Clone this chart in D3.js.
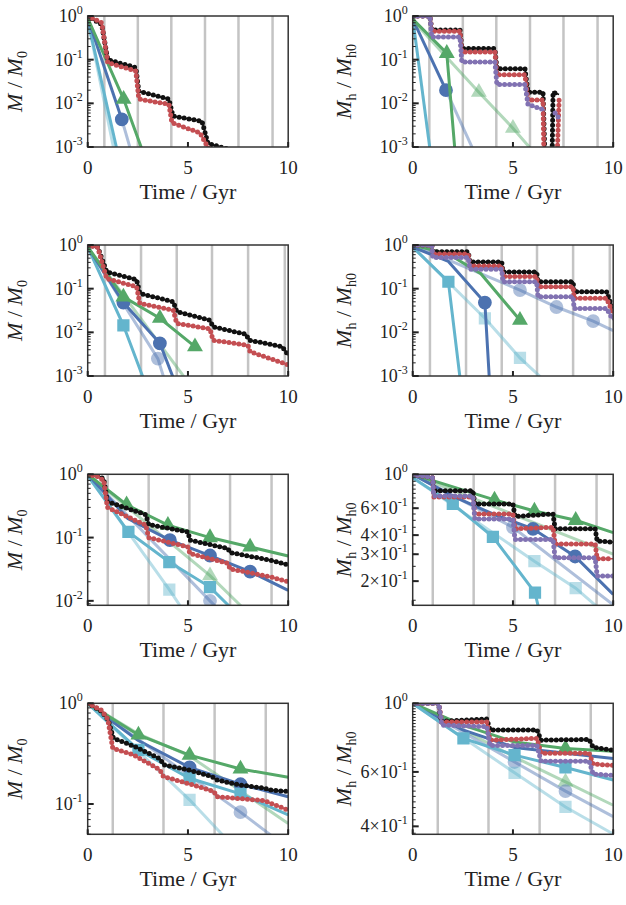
<!DOCTYPE html>
<html>
<head>
<meta charset="utf-8">
<script src="https://d3js.org/d3.v7.min.js"></script>
<style>
body { margin: 0; background: #fff; }
svg text { font-family: "Liberation Serif", "Times New Roman", "DejaVu Serif", serif; fill: #222; }
</style>
</head>
<body>
<svg id="fig" width="626" height="905" font-family="Liberation Serif, Times New Roman, DejaVu Serif, serif"></svg>
<script>
// ---- data (time in Gyr, mass fraction) ----
var xTicks = [0, 5, 10];
var colors = { black: "#111", red: "#c44e52", purple: "#8172b2", blue: "#4c72b0", green: "#55a868", cyan: "#64b5cd" };

// pericentre passages per row
var peri1 = [0.83, 2.5, 4.17, 5.85, 7.52, 9.22];
var peri2 = [0.86, 2.66, 4.44, 6.2, 8.0, 9.83];
var peri3 = [1.0, 3.04, 5.07, 7.1, 9.17];
var peri4 = [1.25, 3.78, 6.33, 8.88];

// y domains, one per panel
var yDom = [[0.001, 1], [0.001, 1], [0.001, 1], [0.001, 1], [0.0085, 1], [0.139, 1], [0.05, 1], [0.377, 1]];

// panel 1: M/M0, row 1
var p1Black = [[0,1],[0.7,0.64],[1.0,0.1],[2.4,0.066],[2.55,0.019],[4.05,0.0125],[4.25,0.0051],[5.7,0.0039],[6.0,0.0012],[7.0,0.0009]];
var p1Red = [[0,1],[0.7,0.7],[1.0,0.085],[2.4,0.055],[2.55,0.0125],[4.05,0.0095],[4.2,0.0036],[5.6,0.0021],[6.0,0.00097],[6.2,0.0008]];
var p1Blue = [[0,0.9],[1.7,0.0043,1]];
var p1BlueL = [[1.7,0.0043],[2.1,0.001]];
var p1Green = [[0,0.9],[1.79,0.0125,1],[2.7,0.0009]];
var p1Cyan = [[0,0.8],[1.45,0.0009]];
var p1CyanL = [[0,0.8],[1.3,0.0009]];

// panel 2: Mh/Mh0, row 1
var p2Black = [[0,1],[0.86,1],[0.95,0.48],[2.36,0.48],[2.45,0.18],[4.1,0.18],[4.2,0.062],[5.6,0.062],[5.75,0.018],[6.5,0.018],[6.6,0.0005]];
var p2BlackB = [[6.95,0.0005],[7.0,0.018],[7.3,0.016]];
var p2Red = [[0,1],[0.86,1],[0.95,0.45],[2.36,0.45],[2.45,0.15],[4.1,0.15],[4.2,0.045],[5.6,0.045],[5.75,0.012],[6.5,0.012],[6.55,0.0005]];
var p2RedB = [[7.2,0.0005],[7.3,0.012]];
var p2Purple = [[0,1],[0.86,1],[0.95,0.33],[2.36,0.33],[2.45,0.088],[4.1,0.088],[4.2,0.027],[5.6,0.027],[5.75,0.0094],[6.6,0.007]];
var p2PurpleB = [[7.1,0.006],[7.3,0.0045]];
var p2Cyan = [[0,0.9],[0.86,0.0009]];
var p2Blue = [[0,0.85],[1.66,0.02,1]];
var p2BlueL = [[1.66,0.02],[3.0,0.0009]];
var p2Green = [[0,0.85],[1.7,0.14,1],[2.1,0.0009]];
var p2GreenL = [[0,0.8],[3.3,0.018,1],[5.0,0.0027,1],[5.9,0.0009]];

// panel 3: M/M0, row 2
var p3Black = [[0,1],[0.5,0.9],[0.95,0.24],[2.44,0.16],[2.6,0.078],[4.27,0.05],[4.44,0.03],[6.1,0.019],[6.25,0.0134],[7.9,0.009],[8.05,0.0066],[9.7,0.0047],[10,0.003]];
var p3Red = [[0,1],[0.5,0.88],[0.95,0.17],[2.44,0.11],[2.6,0.046],[4.27,0.032],[4.44,0.016],[6.1,0.012],[6.25,0.0066],[8.0,0.005],[8.1,0.0036],[10,0.0018]];
var p3Cyan = [[0,0.9],[1.78,0.0145,1],[2.77,0.0009]];
var p3Blue = [[0,0.9],[1.78,0.048,1],[3.6,0.0056,1],[4.27,0.0009]];
var p3BlueL = [[0,0.9],[3.5,0.0025,1],[3.8,0.0009]];
var p3Green = [[0,0.9],[1.78,0.065,1],[3.6,0.021,1],[5.35,0.0047,1]];
var p3GreenL = [[0,0.9],[4.85,0.0009]];

// panel 4: Mh/Mh0, row 2
var p4Black = [[0,1],[0.95,1],[1.0,0.7],[2.77,0.7],[2.85,0.41],[4.44,0.41],[4.5,0.24],[6.18,0.24],[6.25,0.144],[8.0,0.144],[8.05,0.085],[9.67,0.085],[10,0.032]];
var p4Red = [[0,1],[0.95,1],[1.0,0.62],[2.77,0.62],[2.85,0.33],[4.44,0.33],[4.5,0.19],[6.18,0.19],[6.25,0.11],[8.0,0.11],[8.05,0.06],[9.67,0.06],[10,0.027]];
var p4Purple = [[0,1],[0.95,1],[1.0,0.52],[2.77,0.52],[2.85,0.28],[4.44,0.28],[4.5,0.144],[6.18,0.144],[6.25,0.065],[8.0,0.065],[8.05,0.035],[9.67,0.035],[10,0.019]];
var p4Cyan = [[0,0.9],[1.78,0.144,1],[2.36,0.0009]];
var p4Blue = [[0,0.9],[1.78,0.42],[3.6,0.048,1],[3.82,0.0009]];
var p4CyanL = [[0,0.9],[3.6,0.021,1],[5.35,0.0026,1],[6.43,0.0009]];
var p4Green = [[0,1],[1.78,0.62],[3.4,0.22],[5.35,0.019,1]];
var p4BlueL = [[0,1],[5.35,0.093,1],[7.17,0.038,1],[9.0,0.018,1],[10,0.011]];

// panel 5: M/M0, row 3
var p5Black = [[0,1],[0.5,0.95],[0.8,0.85],[0.98,0.37],[2.9,0.23],[3.04,0.16],[5.0,0.123],[5.1,0.091],[7.0,0.067],[7.1,0.058],[9.1,0.044],[10,0.037]];
var p5Red = [[0,1],[0.5,0.92],[0.8,0.8],[0.98,0.3],[2.9,0.157],[3.04,0.1],[5.0,0.071],[5.1,0.056],[7.0,0.039],[7.1,0.032],[9.1,0.024],[10,0.02]];
var p5Blue = [[0,1],[2.0,0.2],[4.1,0.091,1],[6.1,0.052,1],[8.1,0.029,1],[10,0.0146]];
var p5Green = [[0,1],[1.94,0.33,1],[4.0,0.157,1],[6.1,0.1,1],[8.1,0.071,1],[10,0.051]];
var p5Cyan = [[0,0.95],[2.03,0.123,1],[4.07,0.041,1],[6.1,0.0165,1],[7.1,0.008]];
var p5CyanL = [[0,0.95],[4.07,0.015,1],[4.65,0.008]];
var p5BlueL = [[0,1],[6.1,0.01,1],[6.4,0.008]];
var p5GreenL = [[0,1],[6.1,0.025,1],[7.7,0.008]];

// panel 6: Mh/Mh0, row 3
var p6Black = [[0,1],[1.0,0.95],[1.05,0.78],[3.0,0.78],[3.1,0.64],[5.0,0.64],[5.1,0.53],[7.0,0.55],[7.1,0.44],[9.1,0.44],[9.2,0.366],[10,0.36]];
var p6Red = [[0,1],[1.0,0.95],[1.05,0.71],[3.0,0.71],[3.1,0.55],[5.0,0.55],[5.1,0.44],[7.0,0.45],[7.1,0.35],[9.1,0.35],[9.2,0.28],[10,0.28]];
var p6Purple = [[0,1],[1.0,0.95],[1.05,0.72],[3.0,0.72],[3.1,0.51],[5.0,0.51],[5.1,0.375],[7.0,0.375],[7.1,0.284],[9.1,0.284],[9.2,0.216],[10,0.216]];
var p6Green = [[0,1],[4.08,0.68,1],[6.07,0.575,1],[8.13,0.5,1],[10,0.415]];
var p6GreenL = [[0,1],[10,0.3]];
var p6Blue = [[0,1],[2,0.72],[4,0.55],[6,0.44,1],[8.1,0.29,1],[10,0.164]];
var p6BlueL = [[0,1],[5,0.45,1],[10,0.14]];
var p6Cyan = [[0,0.95],[2.0,0.64,1],[4.0,0.39,1],[6.1,0.168,1],[6.3,0.13]];
var p6CyanL = [[0,0.95],[6.07,0.27,1],[8.13,0.18,1],[9.37,0.13]];

// panel 7: M/M0, row 4
var p7Black = [[0,1],[0.7,0.83],[1.03,0.68],[1.28,0.45],[2.37,0.37],[3.62,0.28],[3.78,0.245],[5.03,0.218],[6.2,0.187],[6.45,0.173],[7.53,0.155],[8.87,0.143],[9.0,0.138],[10,0.133]];
var p7Red = [[0,1],[0.7,0.85],[1.0,0.7],[1.25,0.357],[2.3,0.307],[3.6,0.218],[3.78,0.187],[5.0,0.16],[6.3,0.133],[6.45,0.118],[8.8,0.108],[10,0.087]];
var p7Green = [[0,1],[2.53,0.485,1],[5.08,0.306,1],[7.62,0.223,1],[10,0.184]];
var p7GreenL = [[0,1],[2.5,0.5],[5.08,0.3],[10,0.064]];
var p7Blue = [[0,1],[2.5,0.43],[5.08,0.231,1],[7.62,0.157,1],[10,0.118]];
var p7Cyan = [[0,1],[2.53,0.344,1],[5.08,0.18,1],[7.62,0.126,1],[10,0.078]];
var p7CyanL = [[0,1],[5.08,0.11,1],[6.78,0.048]];
var p7BlueL = [[0,1],[7.62,0.083,1],[9.2,0.048]];

// panel 8: Mh/Mh0, row 4
var p8Black = [[0,1],[1.3,1.0],[1.4,0.875],[3.7,0.89],[3.85,0.82],[6.2,0.82],[6.4,0.76],[8.8,0.764],[9.0,0.72],[10,0.705]];
var p8Red = [[0,1],[1.3,1.0],[1.45,0.87],[3.7,0.87],[3.85,0.76],[6.2,0.77],[6.4,0.69],[8.8,0.69],[9.0,0.636],[10,0.63]];
var p8Purple = [[0,1],[1.3,1.0],[1.45,0.85],[3.7,0.84],[3.85,0.73],[6.2,0.73],[6.4,0.65],[8.8,0.65],[9.0,0.59],[10,0.585]];
var p8Green = [[0,1],[2.5,0.85],[5.08,0.75],[7.62,0.714,1],[10,0.7]];
var p8GreenL = [[0,1],[5.08,0.67],[7.62,0.557,1],[10,0.468]];
var p8Blue = [[0,1],[2.5,0.82],[5.08,0.72],[10,0.663]];
var p8Cyan = [[0,1],[2.53,0.77,1],[5.08,0.68,1],[7.62,0.62,1],[10,0.565]];
var p8CyanL = [[0,1],[5.08,0.596,1],[7.62,0.462,1],[10,0.378]];
var p8BlueL = [[0,1],[5.08,0.646,1],[7.62,0.52,1],[10,0.43]];

// y tick labels: [value, mantissa, exponent]
var yTicksDecades = [[1,"","0"],[0.1,"","-1"],[0.01,"","-2"],[0.001,"","-3"]];
var yTicks6 = [[1,"","0"],[0.6,"6","-1"],[0.4,"4","-1"],[0.3,"3","-1"],[0.2,"2","-1"]];
var yTicks8 = [[1,"","0"],[0.6,"6","-1"],[0.4,"4","-1"]];

// ---- layout ----
var colX = [87.7, 412.7];
var rowY = [16, 245, 474.3, 703.3];
var pw = 200.5, ph = 131;

// series spec: [data, colour, marker, light]
var panels = [
  { peri: peri1, ticks: yTicksDecades, ylab: 0, series: [[p1CyanL,"cyan","square",1],[p1Cyan,"cyan","square"],[p1BlueL,"blue","circle",1],[p1Blue,"blue","circle"],[p1Green,"green","triangle"],[p1Black,"black","dot"],[p1Red,"red","dot"]] },
  { peri: peri1, ticks: yTicksDecades, ylab: 1, series: [[p2Cyan,"cyan","square"],[p2BlueL,"blue","circle",1],[p2Blue,"blue","circle"],[p2GreenL,"green","triangle",1],[p2Green,"green","triangle"],[p2Black,"black","dot"],[p2BlackB,"black","dot"],[p2Red,"red","dot"],[p2RedB,"red","dot"],[p2Purple,"purple","dot"],[p2PurpleB,"purple","dot"]] },
  { peri: peri2, ticks: yTicksDecades, ylab: 0, series: [[p3GreenL,"green","triangle",1],[p3BlueL,"blue","circle",1],[p3Cyan,"cyan","square"],[p3Blue,"blue","circle"],[p3Green,"green","triangle"],[p3Black,"black","dot"],[p3Red,"red","dot"]] },
  { peri: peri2, ticks: yTicksDecades, ylab: 1, series: [[p4BlueL,"blue","circle",1],[p4CyanL,"cyan","square",1],[p4Cyan,"cyan","square"],[p4Blue,"blue","circle"],[p4Green,"green","triangle"],[p4Black,"black","dot"],[p4Red,"red","dot"],[p4Purple,"purple","dot"]] },
  { peri: peri3, ticks: [[1,"","0"],[0.1,"","-1"],[0.01,"","-2"]], ylab: 0, series: [[p5GreenL,"green","triangle",1],[p5BlueL,"blue","circle",1],[p5CyanL,"cyan","square",1],[p5Cyan,"cyan","square"],[p5Blue,"blue","circle"],[p5Green,"green","triangle"],[p5Black,"black","dot"],[p5Red,"red","dot"]] },
  { peri: peri3, ticks: yTicks6, ylab: 1, series: [[p6GreenL,"green","triangle",1],[p6BlueL,"blue","circle",1],[p6CyanL,"cyan","square",1],[p6Cyan,"cyan","square"],[p6Blue,"blue","circle"],[p6Green,"green","triangle"],[p6Black,"black","dot"],[p6Red,"red","dot"],[p6Purple,"purple","dot"]] },
  { peri: peri4, ticks: [[1,"","0"],[0.1,"","-1"]], ylab: 0, series: [[p7GreenL,"green","triangle",1],[p7BlueL,"blue","circle",1],[p7CyanL,"cyan","square",1],[p7Blue,"blue","circle"],[p7Cyan,"cyan","square"],[p7Green,"green","triangle"],[p7Black,"black","dot"],[p7Red,"red","dot"]] },
  { peri: peri4, ticks: yTicks8, ylab: 1, series: [[p8GreenL,"green","triangle",1],[p8BlueL,"blue","circle",1],[p8CyanL,"cyan","square",1],[p8Blue,"blue","circle"],[p8Green,"green","triangle"],[p8Cyan,"cyan","square"],[p8Black,"black","dot"],[p8Red,"red","dot"],[p8Purple,"purple","dot"]] }
];

var svg = d3.select("#fig");

panels.forEach(function (p, i) {
  var ox = colX[i % 2], oy = rowY[Math.floor(i / 2)];
  var g = svg.append("g").attr("transform", "translate(" + ox + "," + oy + ")");
  var x = d3.scaleLinear().domain([0, 10]).range([0, pw]);
  var y = d3.scaleLog().domain(yDom[i]).range([ph, 0]);
  var cid = "clip" + i;
  g.append("clipPath").attr("id", cid).append("rect").attr("width", pw).attr("height", ph);

  // pericentre lines
  g.selectAll(".peri").data(p.peri).enter().append("line")
    .attr("x1", x).attr("x2", x).attr("y1", 0).attr("y2", ph)
    .attr("stroke", "#c4c4c4").attr("stroke-width", 2.5);

  var plot = g.append("g").attr("clip-path", "url(#" + cid + ")");
  var line = d3.line().x(function (d) { return x(d[0]); }).y(function (d) { return y(d[1]); });

  p.series.forEach(function (s) {
    var data = s[0], col = colors[s[1]], kind = s[2], light = s[3];
    var op = light ? 0.45 : 1;
    if (kind === "dot") {
      plot.append("path").attr("d", line(data)).attr("fill", "none")
        .attr("stroke", col).attr("stroke-width", 1.6);
      plot.append("path").attr("d", line(data)).attr("fill", "none")
        .attr("stroke", col).attr("stroke-width", 5).attr("stroke-linecap", "round")
        .attr("stroke-dasharray", "0,5");
      return;
    }
    plot.append("path").attr("d", line(data)).attr("fill", "none")
      .attr("stroke", col).attr("stroke-opacity", op).attr("stroke-width", 3);
    var sym = kind === "circle" ? d3.symbolCircle : kind === "square" ? d3.symbolSquare : d3.symbolTriangle;
    var size = kind === "triangle" ? 110 : 150;
    plot.selectAll(null).data(data.filter(function (d) { return d[2]; })).enter().append("path")
      .attr("d", d3.symbol().type(sym).size(size))
      .attr("transform", function (d) { return "translate(" + x(d[0]) + "," + y(d[1]) + ")"; })
      .attr("fill", col).attr("fill-opacity", op);
  });

  // frame
  g.append("rect").attr("width", pw).attr("height", ph).attr("fill", "none")
    .attr("stroke", "#333").attr("stroke-width", 1.5);

  // x ticks (inward) and labels
  xTicks.forEach(function (t) {
    g.append("line").attr("x1", x(t)).attr("x2", x(t)).attr("y1", ph).attr("y2", ph - 5)
      .attr("stroke", "#222").attr("stroke-width", 2);
    g.append("text").attr("x", x(t)).attr("y", ph + 27).attr("text-anchor", "middle")
      .attr("font-size", 19).text(t);
  });
  g.append("text").attr("x", pw / 2).attr("y", ph + 52).attr("text-anchor", "middle")
    .attr("font-size", 22).text("Time / Gyr");

  // minor y ticks
  var dom = yDom[i];
  var minors = y.ticks(20).filter(function (v) { return v >= dom[0] && v <= dom[1]; });
  g.selectAll(".mt").data(minors).enter().append("line")
    .attr("x1", 0).attr("x2", 3).attr("y1", y).attr("y2", y)
    .attr("stroke", "#222").attr("stroke-width", 1);
  // major y ticks and labels
  p.ticks.forEach(function (t) {
    g.append("line").attr("x1", 0).attr("x2", 6).attr("y1", y(t[0])).attr("y2", y(t[0]))
      .attr("stroke", "#222").attr("stroke-width", 2);
    var tx = g.append("text").attr("x", -5).attr("y", y(t[0]) + 6).attr("text-anchor", "end").attr("font-size", 18);
    if (t[1]) tx.append("tspan").text(t[1] + "\u00d7");
    tx.append("tspan").text("10");
    tx.append("tspan").attr("dy", -8).attr("font-size", 12).text(t[2]);
  });

  // y label
  var yl = g.append("text").attr("transform", "translate(" + (p.ylab ? -62 : -66) + "," + (ph / 2) + ") rotate(-90)")
    .attr("text-anchor", "middle").attr("font-size", 22).attr("font-style", "italic");
  if (p.ylab === 0) {
    yl.append("tspan").text("M");
    yl.append("tspan").attr("font-style", "normal").text(" / ");
    yl.append("tspan").text("M");
    yl.append("tspan").attr("dy", 5).attr("font-size", 14).attr("font-style", "normal").text("0");
  } else {
    yl.append("tspan").text("M");
    yl.append("tspan").attr("dy", 5).attr("font-size", 14).attr("font-style", "normal").text("h");
    yl.append("tspan").attr("dy", -5).attr("font-style", "normal").text(" / ");
    yl.append("tspan").text("M");
    yl.append("tspan").attr("dy", 5).attr("font-size", 14).attr("font-style", "normal").text("h0");
  }
});
</script>
</body>
</html>
